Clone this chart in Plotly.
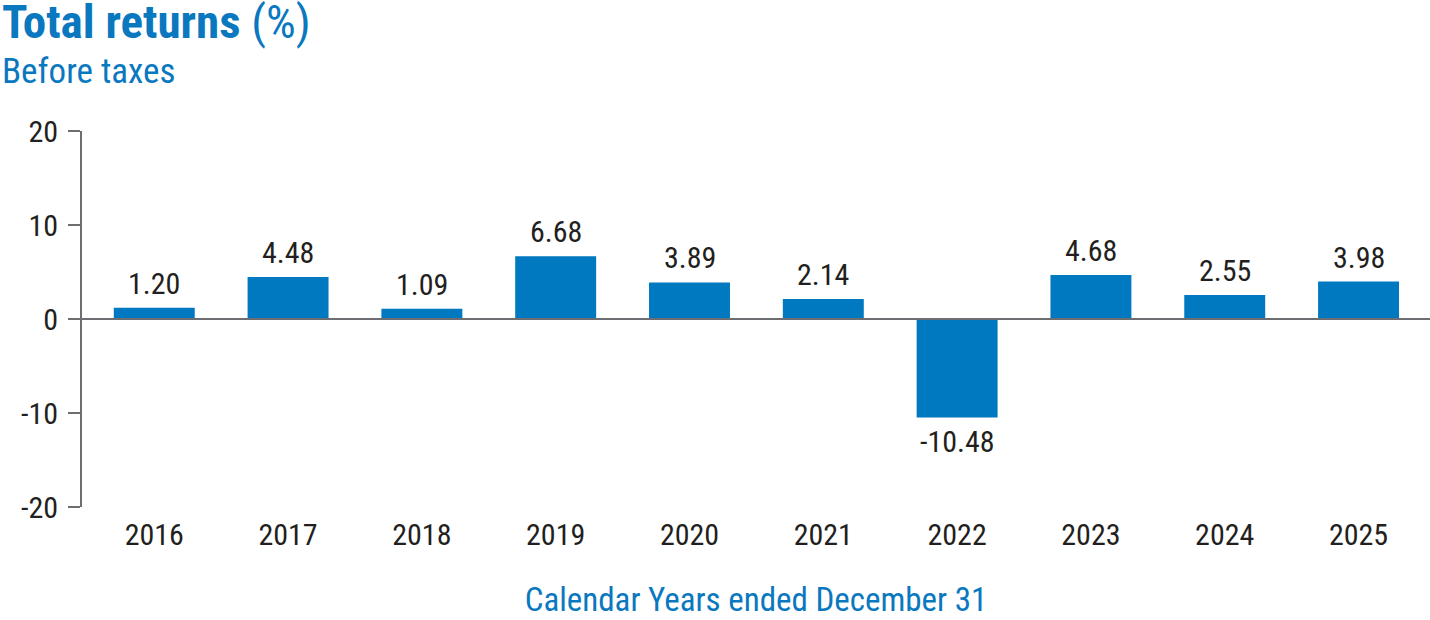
import plotly.graph_objects as go

years = ["2016", "2017", "2018", "2019", "2020", "2021", "2022", "2023", "2024", "2025"]
returns = [1.20, 4.48, 1.09, 6.68, 3.89, 2.14, -10.48, 4.68, 2.55, 3.98]
y_ticks = [-20, -10, 0, 10, 20]
y_tick_labels = ["-20", "-10", "0", "10", "20"]

FONT = "'Roboto Condensed', 'Liberation Sans Narrow', Roboto, sans-serif"
BLUE = "#0079C1"
TITLE_BLUE = "#0A78BE"
TXT = "#231F20"
AX = "#6D6E71"

fig = go.Figure()
fig.add_trace(go.Bar(
    x=years, y=returns, marker=dict(color=BLUE, line=dict(width=0)),
    hoverinfo="skip", showlegend=False,
))

annotations = []
for i, v in enumerate(returns):
    annotations.append(dict(
        x=i, y=v, xref="x", yref="y", text=f"{v:.2f}", showarrow=False,
        yanchor="bottom" if v >= 0 else "top", yshift=5 if v >= 0 else -4,
        font=dict(family=FONT, size=30, color=TXT),
    ))
LEFT = -82 / 1348
annotations.append(dict(
    x=LEFT, y=1.2133, xref="paper", yref="paper", xanchor="left", yanchor="bottom",
    text="<b>Total returns</b> (%)", showarrow=False,
    font=dict(family=FONT, size=47, color=TITLE_BLUE),
))
annotations.append(dict(
    x=LEFT, y=1.0997, xref="paper", yref="paper", xanchor="left", yanchor="bottom",
    text="Before taxes", showarrow=False,
    font=dict(family=FONT, size=35, color=TITLE_BLUE),
))

fig.update_layout(
    width=1430, height=620,
    margin=dict(l=82, r=0, t=131, b=113),
    paper_bgcolor="white", plot_bgcolor="white",
    bargap=0.395,
    font=dict(family=FONT, size=30, color=TXT),
    xaxis=dict(
        type="category", range=[-0.54, 9.534], showgrid=False, showline=False,
        ticks="", zeroline=False, ticklabelstandoff=7,
        tickfont=dict(family=FONT, size=30, color=TXT),
        title=dict(text="Calendar Years ended December 31", standoff=36,
                   font=dict(family=FONT, size=33, color=TITLE_BLUE)),
    ),
    yaxis=dict(
        range=[-20, 20], tickvals=y_ticks, ticktext=y_tick_labels,
        showgrid=False, zeroline=False,
        showline=True, linecolor=AX, linewidth=2, ticks="outside", ticklen=12,
        tickcolor=AX, tickwidth=2, ticklabelstandoff=4,
        tickfont=dict(family=FONT, size=30, color=TXT),
    ),
    yaxis2=dict(
        range=[-20, 20], tickvals=y_ticks, overlaying="y", side="left",
        showgrid=False, zeroline=False, showline=False, ticks="inside", ticklen=13,
        tickcolor=AX, tickwidth=2, showticklabels=False,
    ),
    shapes=[dict(type="line", xref="paper", yref="y", x0=-0.0085, x1=1, y0=0, y1=0,
                 line=dict(color=AX, width=2), layer="above")],
    annotations=annotations,
)

fig.write_html(
    "out.html",
    config={"displayModeBar": False},
    post_script="document.body.style.margin='0';document.body.style.overflow='hidden';",
)
